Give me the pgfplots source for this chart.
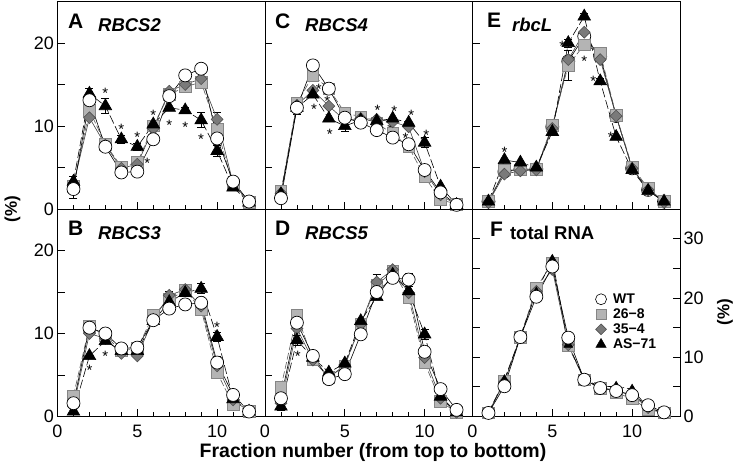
\documentclass[border=0pt]{standalone}
\usepackage{fontspec}
\setmainfont{Liberation Sans}
\usepackage{pgfplots}
\pgfplotsset{compat=1.18}

\definecolor{sqfill}{HTML}{B4B4B4}
\definecolor{sqedge}{HTML}{858585}
\definecolor{dmfill}{HTML}{7A7A7A}
\definecolor{dmedge}{HTML}{505050}

\tikzset{
  star/.style={inner sep=0pt, font=\fontsize{15}{15}\selectfont, yshift=-3pt},
  letter/.style={anchor=base west, inner sep=0pt, font=\bfseries\fontsize{21}{21}\selectfont},
  gene/.style={anchor=base west, inner sep=0pt, font=\bfseries\itshape\fontsize{18.5}{18.5}\selectfont},
}

\pgfplotsset{
  panel/.style={
    scale only axis, width=207.5pt, height=207.5pt,
    xmin=0, xmax=13, ymin=0, ymax=25, clip=false,
    axis line style={line width=0.9pt},
    tick style={line width=0.8pt, black},
    tick align=inside,
    xtick={0,5,10}, minor xtick={1,2,3,4,6,7,8,9,11,12},
    major tick length=7pt, minor tick length=4pt,
    xtick pos=left, ytick pos=left,
    ytick={0,5,...,25}, yticklabels={0,,10,,20,},
    every tick label/.append style={font=\fontsize{18}{20}\selectfont},
    xticklabel style={yshift=-5pt},
    /pgf/number format/assume math mode=true,
  },
  toprow/.style={xticklabels={}},
  nolab/.style={yticklabels={}},
  sWT/.style={draw=black, line width=0.6pt, mark=*, mark size=6.5pt,
    mark options={solid, fill=white, draw=black, line width=0.7pt}},
  s26/.style={draw=black!65, line width=0.6pt, dash pattern=on 7pt off 2.5pt,
    mark=square*, mark size=5.8pt,
    mark options={solid, fill=sqfill, draw=sqedge, line width=0.6pt}},
  s35/.style={draw=black!75, line width=0.6pt, mark=square*, mark size=4.2pt,
    mark options={solid, rotate=45, fill=dmfill, draw=dmedge, line width=0.6pt}},
  sAS/.style={draw=black, line width=0.6pt, dash pattern=on 9pt off 3pt,
    mark=triangle*, mark size=7.3pt, mark options={solid, fill=black, draw=black}},
  ebar/.style={draw=none, mark=none, forget plot,
    error bars/.cd, y dir=both, y explicit,
    error bar style={draw=black, solid, line width=0.6pt},
    error mark options={rotate=90, mark size=4pt, draw=black, line width=0.6pt}},
}

\begin{document}
\begin{tikzpicture}
\useasboundingbox (0,0) rectangle (740pt,473pt);

% ---------- A: RBCS2
\begin{axis}[panel, toprow, at={(57.5pt,264pt)}, anchor=south west]
\addplot[ebar] coordinates {(1,3.3)+-(0,0.6) (2,13.9)+-(0,0.6) (3,12.4)+-(0,0.9) (4,8.4)+-(0,0.5)
  (5,7.5)+-(0,0.4) (8,11.9)+-(0,0.4) (9,10.7)+-(0,0.9) (10,7.0)+-(0,0.7)
  (1,2.4)+-(0,1.1) (10,10.8)+-(0,0.9)};
\addplot[s26] coordinates {(1,2.7)(2,11.9)(3,7.8)(4,5.1)(5,5.6)(6,10.0)(7,13.8)(8,14.7)(9,15.3)(10,9.6)(11,2.9)(12,0.8)};
\addplot[s35] coordinates {(1,3.0)(2,11.0)(3,7.7)(4,4.9)(5,5.4)(6,9.7)(7,14.2)(8,15.0)(9,15.7)(10,10.8)(11,3.1)(12,0.8)};
\addplot[sAS] coordinates {(1,3.3)(2,13.9)(3,12.4)(4,8.4)(5,7.5)(6,10.2)(7,12.2)(8,11.9)(9,10.7)(10,7.0)(11,2.6)(12,0.8)};
\addplot[sWT] coordinates {(1,2.4)(2,13.1)(3,7.5)(4,4.4)(5,4.5)(6,8.4)(7,13.6)(8,16.1)(9,16.9)(10,8.5)(11,3.3)(12,0.9)};
\node[star] at (3,14.3) {*};
\node[star] at (4,9.9) {*};
\node[star] at (5,9.0) {*};
\node[star] at (5.63,5.9) {*};
\node[star] at (6,11.6) {*};
\node[star] at (7,10.5) {*};
\node[star] at (8,10.2) {*};
\node[star] at (9,8.7) {*};
\node[letter] at (rel axis cs:0.05,0.872) {A};
\node[gene] at (rel axis cs:0.195,0.855) {RBCS2};
\end{axis}

% ---------- C: RBCS4
\begin{axis}[panel, toprow, nolab, at={(265pt,264pt)}, anchor=south west]
\addplot[ebar] coordinates {(3,17.3)+-(0,0.6) (2,12.2)+-(0,0.8) (5,10.0)+-(0,0.6) (10,8.0)+-(0,0.6) (5,11.6)+-(0,0.5)};
\addplot[s26] coordinates {(1,2.1)(2,12.7)(3,16.1)(4,14.5)(5,11.6)(6,11.1)(7,10.3)(8,9.1)(9,7.5)(10,3.9)(11,1.1)(12,0.6)};
\addplot[s35] coordinates {(1,1.9)(2,12.5)(3,14.3)(4,12.4)(5,10.7)(6,10.9)(7,10.8)(8,10.5)(9,9.9)(10,4.5)(11,1.7)(12,0.5)};
\addplot[sAS] coordinates {(1,1.8)(2,12.2)(3,13.8)(4,10.9)(5,10.0)(6,10.7)(7,10.6)(8,10.9)(9,10.4)(10,8.0)(11,2.7)(12,0.5)};
\addplot[sWT] coordinates {(1,1.3)(2,12.2)(3,17.3)(4,14.5)(5,11.0)(6,10.4)(7,9.5)(8,8.6)(9,7.8)(10,4.7)(11,2.0)(12,0.5)};
\node[star] at (3.37,14.8) {*};
\node[star] at (3.07,12.4) {*};
\node[star] at (3.9,13.3) {*};
\node[star] at (4.06,9.4) {*};
\node[star] at (7.05,12.2) {*};
\node[star] at (8.1,12.1) {*};
\node[star] at (7.85,10.0) {*};
\node[star] at (9.16,11.7) {*};
\node[star] at (8.8,8.9) {*};
\node[star] at (10.1,9.2) {*};
\node[letter] at (rel axis cs:0.048,0.872) {C};
\node[gene] at (rel axis cs:0.193,0.855) {RBCS4};
\end{axis}

% ---------- E: rbcL
\begin{axis}[panel, toprow, nolab, at={(472.5pt,264pt)}, anchor=south west]
\addplot[ebar] coordinates {(6,17.3)+-(0,1.8) (6,20.0)+-(0,0.5) (7,23.2)+-(0,0.4) (5,10.1)+-(0,0.5) (8,15.4)+-(0,0.4) (11,2.2)+-(0,0.4)};
\addplot[sWT] coordinates {(1,0.9)(2,4.5)(3,4.8)(4,4.8)(5,9.9)(6,17.8)(7,20.8)(8,18.4)(9,11.2)(10,4.9)(11,2.3)(12,0.9)};
\addplot[s26] coordinates {(1,0.9)(2,4.7)(3,4.7)(4,4.8)(5,10.1)(6,17.3)(7,19.8)(8,18.8)(9,11.3)(10,5.1)(11,2.5)(12,0.9)};
\addplot[s35] coordinates {(1,0.8)(2,4.2)(3,4.6)(4,4.7)(5,9.7)(6,18.0)(7,21.3)(8,18.0)(9,11.2)(10,4.9)(11,2.3)(12,0.8)};
\addplot[sAS] coordinates {(1,0.9)(2,5.9)(3,5.6)(4,5.0)(5,9.3)(6,20.0)(7,23.2)(8,15.4)(9,8.7)(10,4.7)(11,2.2)(12,0.9)};
\node[star] at (2,7.2) {*};
\node[star] at (5.62,20.0) {*};
\node[star] at (7,18.2) {*};
\node[star] at (7.56,15.7) {*};
\node[star] at (8.67,9.0) {*};
\node[letter] at (rel axis cs:0.07,0.875) {E};
\node[gene] at (rel axis cs:0.19,0.855) {rbcL};
\end{axis}

% ---------- B: RBCS3
\begin{axis}[panel, at={(57.5pt,56.5pt)}, anchor=south west]
\addplot[ebar] coordinates {(9,15.4)+-(0,0.6) (10,9.6)+-(0,0.6) (8,15.3)+-(0,0.5) (7,14.6)+-(0,0.5) (10,6.5)+-(0,0.8)};
\addplot[s26] coordinates {(1,2.5)(2,10.9)(3,9.7)(4,7.9)(5,8.2)(6,12.2)(7,14.1)(8,15.2)(9,12.9)(10,5.3)(11,1.4)(12,0.6)};
\addplot[s35] coordinates {(1,1.2)(2,10.0)(3,9.4)(4,7.6)(5,7.3)(6,11.7)(7,14.6)(8,15.3)(9,13.3)(10,6.1)(11,2.0)(12,0.6)};
\addplot[sAS] coordinates {(1,0.6)(2,7.3)(3,9.1)(4,7.9)(5,7.9)(6,11.5)(7,13.8)(8,14.9)(9,15.4)(10,9.6)(11,2.1)(12,0.6)};
\addplot[sWT] coordinates {(1,1.6)(2,10.7)(3,10.0)(4,8.2)(5,8.3)(6,11.6)(7,13.0)(8,13.5)(9,13.7)(10,6.5)(11,2.6)(12,0.6)};
\node[star] at (2,5.9) {*};
\node[star] at (3,7.6) {*};
\node[star] at (10,11.1) {*};
\node[letter] at (rel axis cs:0.05,0.872) {B};
\node[gene] at (rel axis cs:0.195,0.855) {RBCS3};
\end{axis}

% ---------- D: RBCS5
\begin{axis}[panel, nolab, at={(265pt,56.5pt)}, anchor=south west]
\addplot[ebar] coordinates {(7,16.2)+-(0,0.9) (9,16.5)+-(0,0.8) (10,9.9)+-(0,0.6) (2,9.2)+-(0,0.6) (1,1.2)+-(0,0.4)};
\addplot[s26] coordinates {(1,3.5)(2,12.2)(3,6.9)(4,4.7)(5,6.1)(6,11.1)(7,15.8)(8,17.5)(9,14.3)(10,6.5)(11,1.8)(12,0.5)};
\addplot[s35] coordinates {(1,1.6)(2,10.6)(3,6.8)(4,4.7)(5,6.2)(6,11.1)(7,16.2)(8,17.7)(9,14.9)(10,7.1)(11,2.2)(12,0.5)};
\addplot[sAS] coordinates {(1,1.2)(2,9.2)(3,7.1)(4,5.3)(5,6.4)(6,11.5)(7,14.4)(8,17.1)(9,15.1)(10,9.9)(11,2.4)(12,0.5)};
\addplot[sWT] coordinates {(1,2.2)(2,11.3)(3,7.3)(4,4.5)(5,5.1)(6,9.9)(7,15.0)(8,16.7)(9,16.5)(10,7.8)(11,3.3)(12,0.8)};
\node[star] at (2.05,7.6) {*};
\node[letter] at (rel axis cs:0.048,0.872) {D};
\node[gene] at (rel axis cs:0.193,0.855) {RBCS5};
\end{axis}

% ---------- F: total RNA
\begin{axis}[panel, ymax=35, ytick={0,5,...,35}, yticklabels={0,,10,,20,,30,},
  ytick pos=both, yticklabel pos=right, at={(472.5pt,56.5pt)}, anchor=south west,
  legend style={at={(0.592,0.60)}, anchor=north west, draw=none, fill=none,
    font=\bfseries\fontsize{14}{16}\selectfont, inner sep=0pt, row sep=0.8pt,
    column sep=5pt, nodes={inner sep=1.5pt}},
  legend cell align=left]
\addplot[ebar] coordinates {(6,13.3)+-(0,0.9) (6,11.9)+-(0,0.7)};
\addplot[s26, forget plot] coordinates {(1,0.6)(2,6.0)(3,13.4)(4,21.7)(5,25.9)(6,11.9)(7,6.2)(8,4.8)(9,4.0)(10,3.0)(11,1.2)(12,0.6)};
\addplot[s35, forget plot] coordinates {(1,0.6)(2,5.8)(3,13.4)(4,21.1)(5,24.8)(6,12.1)(7,6.2)(8,4.9)(9,4.4)(10,3.6)(11,1.5)(12,0.6)};
\addplot[sAS, mark size=5pt, forget plot] coordinates {(1,0.6)(2,6.2)(3,13.5)(4,21.0)(5,26.5)(6,12.1)(7,6.3)(8,5.0)(9,5.1)(10,4.6)(11,1.5)(12,0.6)};
\addplot[sWT, forget plot] coordinates {(1,0.6)(2,5.1)(3,13.4)(4,20.2)(5,25.3)(6,13.3)(7,6.2)(8,4.8)(9,4.3)(10,3.6)(11,1.9)(12,0.7)};
\addlegendimage{only marks, mark=*, mark size=5.5pt, mark options={fill=white, draw=black, line width=0.6pt}}
\addlegendentry{WT}
\addlegendimage{only marks, mark=square*, mark size=5pt, mark options={fill=sqfill, draw=sqedge, line width=0.6pt}}
\addlegendentry{26−8}
\addlegendimage{only marks, mark=square*, mark size=3.8pt, mark options={rotate=45, fill=dmfill, draw=dmedge, line width=0.6pt}}
\addlegendentry{35−4}
\addlegendimage{only marks, mark=triangle*, mark size=6pt, mark options={fill=black, draw=black}}
\addlegendentry{AS−71}
\node[letter] at (rel axis cs:0.084,0.867) {F};
\node[gene, font=\bfseries\fontsize{18.5}{18.5}\selectfont] at (rel axis cs:0.18,0.855) {total RNA};
\end{axis}

% ---------- shared labels
\node[anchor=base, font=\bfseries\fontsize{19.5}{20}\selectfont] at (373pt,15pt) {Fraction number (from top to bottom)};
\node[rotate=90, font=\bfseries\fontsize{17}{18}\selectfont] at (12.5pt,264pt) {(\%)};
\node[rotate=90, font=\bfseries\fontsize{17}{18}\selectfont] at (725pt,161pt) {(\%)};
\end{tikzpicture}
\end{document}
